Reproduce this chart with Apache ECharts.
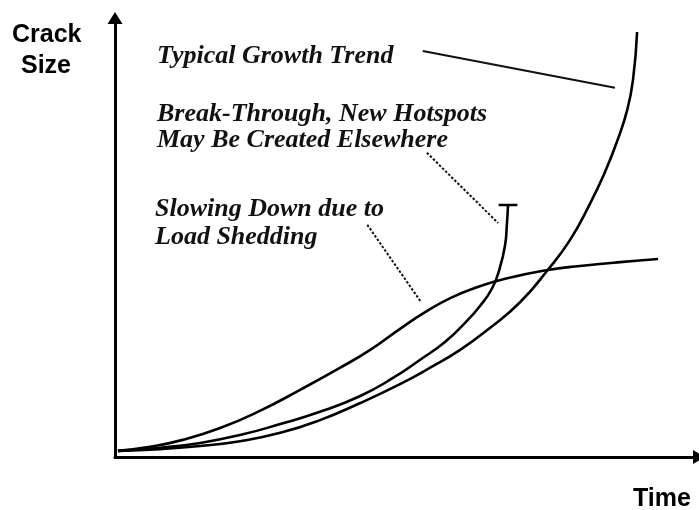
<!DOCTYPE html>
<html>
<head>
<meta charset="utf-8">
<script src="https://cdn.jsdelivr.net/npm/echarts@6/dist/echarts.min.js"></script>
<style>
  html, body { margin: 0; padding: 0; background: #ffffff; }
  #chart { width: 699px; height: 510px; }
</style>
</head>
<body>
<div id="chart"></div>
<script>
// Conceptual crack-growth curves, time vs crack size in arbitrary units (0-100)
const typicalGrowth = [
  [0.5, 1.4], [7.7, 1.8], [14.6, 2.5], [21.4, 3.6], [28.3, 5.5], [35.1, 8.4],
  [42.0, 12.3], [48.8, 16.6], [53.9, 20.3], [59.1, 24.4], [64.2, 29.4], [69.4, 35.3],
  [74.1, 42.6], [77.9, 49.4], [81.3, 57.6], [83.9, 64.9], [86.0, 72.0], [87.7, 79.0],
  [88.7, 85.9], [89.4, 96.8]
];
const breakThrough = [
  [0.5, 1.4], [7.7, 2.1], [14.6, 3.2], [21.4, 5.0], [28.3, 7.5], [35.1, 10.3],
  [42.0, 13.9], [47.6, 18.0], [52.2, 22.1], [56.5, 26.2], [59.9, 30.5], [62.5, 34.4],
  [64.6, 38.5], [65.9, 43.1], [66.8, 48.3], [67.1, 52.9], [67.3, 57.4]
];
// end stop of the break-through curve
const breakThroughStop = [[65.7, 57.4], [68.9, 57.4]];
const slowingDown = [
  [0.5, 1.4], [6.0, 2.3], [11.6, 3.9], [18.0, 6.6], [24.8, 10.5], [31.7, 15.3],
  [38.5, 20.3], [43.7, 24.4], [48.8, 29.2], [53.1, 33.0], [57.4, 36.2], [61.6, 38.5],
  [66.8, 40.6], [74.1, 42.6], [79.6, 43.5], [86.5, 44.4], [93.0, 45.1]
];

// annotation leader lines (data space)
const leaderTypical = [[52.7, 92.5], [85.6, 84.1]];
const leaderBreak = [[53.4, 69.3], [65.6, 53.3]];
const leaderSlowing = [[43.2, 52.9], [52.4, 35.3]];

const axisNameY = ['Crack', 'Size'];
const axisNameX = 'Time';
const notes = {
  typical: ['Typical Growth Trend'],
  breakThrough: ['Break-Through, New Hotspots', 'May Be Created Elsewhere'],
  slowing: ['Slowing Down due to', 'Load Shedding']
};

const chart = echarts.init(document.getElementById('chart'), null, { renderer: 'canvas' });

const curveStyle = { color: '#000', width: 2.6 };
const noteFont = {
  fontFamily: '"Liberation Serif", "Times New Roman", serif',
  fontStyle: 'italic',
  fontWeight: 'bold',
  fontSize: 26,
  fill: '#111'
};
const sansFont = {
  fontFamily: '"Liberation Sans", Arial, sans-serif',
  fontWeight: 'bold',
  fontSize: 25,
  fill: '#000'
};

function curve(data, extra) {
  return Object.assign({
    type: 'line',
    data: data,
    smooth: 0.5,
    symbol: 'none',
    lineStyle: curveStyle,
    silent: true,
    z: 3
  }, extra || {});
}

function leader(data, dashed) {
  return {
    type: 'line',
    data: data,
    symbol: 'none',
    silent: true,
    lineStyle: { color: '#111', width: 2, type: dashed ? [2.5, 1.8] : 'solid' },
    z: 2
  };
}

function noteLines(lines, x, baseline, gap) {
  return lines.map((t, i) => ({
    type: 'text',
    left: x,
    top: baseline + i * gap - 21,
    style: Object.assign({ text: t }, noteFont)
  }));
}

chart.setOption({
  animation: false,
  backgroundColor: '#ffffff',
  grid: { left: 115, right: 0, top: 18, bottom: 53, containLabel: false },
  xAxis: {
    type: 'value', min: 0, max: 100,
    axisLine: {
      show: true, onZero: false,
      symbol: ['none', 'triangle'], symbolSize: [14, 12],
      lineStyle: { color: '#000', width: 3 }
    },
    axisTick: { show: false }, axisLabel: { show: false }, splitLine: { show: false }
  },
  yAxis: {
    type: 'value', min: 0, max: 100,
    axisLine: {
      show: true, onZero: false,
      symbol: ['none', 'triangle'], symbolSize: [15, 12],
      lineStyle: { color: '#000', width: 3 }
    },
    axisTick: { show: false }, axisLabel: { show: false }, splitLine: { show: false }
  },
  series: [
    curve(typicalGrowth),
    curve(breakThrough),
    curve(breakThroughStop, { smooth: false }),
    curve(slowingDown),
    leader(leaderTypical, false),
    leader(leaderBreak, true),
    leader(leaderSlowing, true)
  ],
  graphic: [
    { type: 'text', left: 12, top: 23, style: Object.assign({ text: axisNameY[0] }, sansFont) },
    { type: 'text', left: 21, top: 54, style: Object.assign({ text: axisNameY[1] }, sansFont) },
    { type: 'text', left: 633, top: 487, style: Object.assign({ text: axisNameX }, sansFont) }
  ]
    .concat(noteLines(notes.typical, 157, 64, 0))
    .concat(noteLines(notes.breakThrough, 157, 122, 26))
    .concat(noteLines(notes.slowing, 155, 217, 28))
});
</script>
</body>
</html>
